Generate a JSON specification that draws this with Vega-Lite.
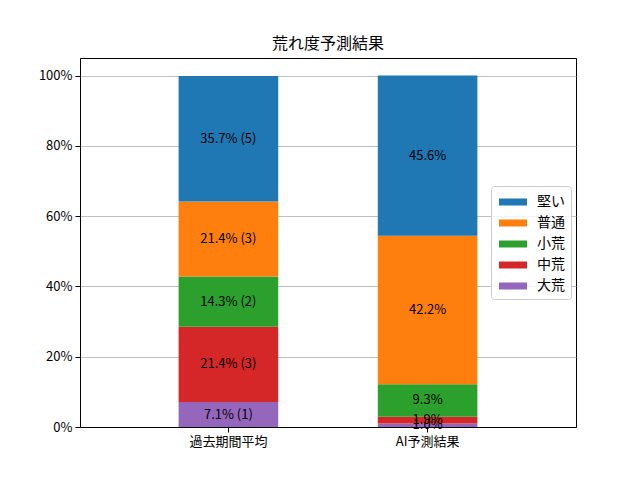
{
  "$schema": "https://vega.github.io/schema/vega-lite/v6.json",
  "autosize": "none",
  "width": 496,
  "height": 369,
  "padding": {"left": 80, "top": 58, "right": 64, "bottom": 53},
  "background": "white",
  "config": {
    "font": "Noto Sans CJK JP",
    "view": {"stroke": "black", "strokeWidth": 1},
    "axis": {
      "labelFont": "Noto Sans CJK JP",
      "labelFontSize": 13,
      "labelColor": "black",
      "domainColor": "black",
      "tickColor": "black",
      "tickSize": 5,
      "labelPadding": 3
    }
  },
  "title": {
    "text": "荒れ度予測結果",
    "fontSize": 16,
    "fontWeight": "normal",
    "color": "black",
    "offset": 6
  },
  "data": {
    "values": [
      {"group": "過去期間平均", "level": "大荒", "rank": 0, "pct": 7.1, "label": "7.1% (1)"},
      {"group": "過去期間平均", "level": "中荒", "rank": 1, "pct": 21.4, "label": "21.4% (3)"},
      {"group": "過去期間平均", "level": "小荒", "rank": 2, "pct": 14.3, "label": "14.3% (2)"},
      {"group": "過去期間平均", "level": "普通", "rank": 3, "pct": 21.4, "label": "21.4% (3)"},
      {"group": "過去期間平均", "level": "堅い", "rank": 4, "pct": 35.7, "label": "35.7% (5)"},
      {"group": "AI予測結果", "level": "大荒", "rank": 0, "pct": 1.0, "label": "1.0%"},
      {"group": "AI予測結果", "level": "中荒", "rank": 1, "pct": 1.9, "label": "1.9%"},
      {"group": "AI予測結果", "level": "小荒", "rank": 2, "pct": 9.3, "label": "9.3%"},
      {"group": "AI予測結果", "level": "普通", "rank": 3, "pct": 42.2, "label": "42.2%"},
      {"group": "AI予測結果", "level": "堅い", "rank": 4, "pct": 45.6, "label": "45.6%"}
    ]
  },
  "transform": [
    {"stack": "pct", "groupby": ["group"], "sort": [{"field": "rank", "order": "ascending"}], "as": ["y0", "y1"]},
    {"calculate": "(datum.y0 + datum.y1) / 2", "as": "ymid"}
  ],
  "encoding": {
    "x": {
      "field": "group",
      "type": "nominal",
      "sort": ["過去期間平均", "AI予測結果"],
      "scale": {"paddingInner": 0.5, "paddingOuter": 0.495},
      "axis": {"title": null, "labelAngle": 0}
    }
  },
  "layer": [
    {
      "mark": {"type": "bar"},
      "encoding": {
        "y": {
          "field": "y0",
          "type": "quantitative",
          "scale": {"domain": [0, 105], "nice": false},
          "axis": {
            "title": null,
            "values": [0, 20, 40, 60, 80, 100],
            "labelExpr": "datum.value + '%'",
            "grid": true,
            "gridColor": "#b0b0b0",
            "gridWidth": 0.8
          }
        },
        "y2": {"field": "y1"},
        "color": {
          "field": "level",
          "type": "nominal",
          "sort": ["堅い", "普通", "小荒", "中荒", "大荒"],
          "scale": {
            "domain": ["堅い", "普通", "小荒", "中荒", "大荒"],
            "range": ["#1f77b4", "#ff7f0e", "#2ca02c", "#d62728", "#9467bd"]
          },
          "legend": {
            "title": null,
            "orient": "none",
            "legendX": 411,
            "legendY": 128,
            "symbolType": "M-1.4,-0.35h2.8v0.7h-2.8z",
            "symbolSize": 400,
            "symbolStrokeWidth": 0,
            "symbolOffset": 6,
            "labelFontSize": 14,
            "labelColor": "black",
            "labelOffset": 14,
            "rowPadding": 4,
            "padding": 6,
            "fillColor": "rgba(255,255,255,0.8)",
            "strokeColor": "#cccccc",
            "cornerRadius": 3
          }
        }
      }
    },
    {
      "mark": {"type": "text", "fontSize": 13, "color": "black", "baseline": "middle"},
      "encoding": {
        "y": {"field": "ymid", "type": "quantitative"},
        "text": {"field": "label"}
      }
    }
  ]
}
